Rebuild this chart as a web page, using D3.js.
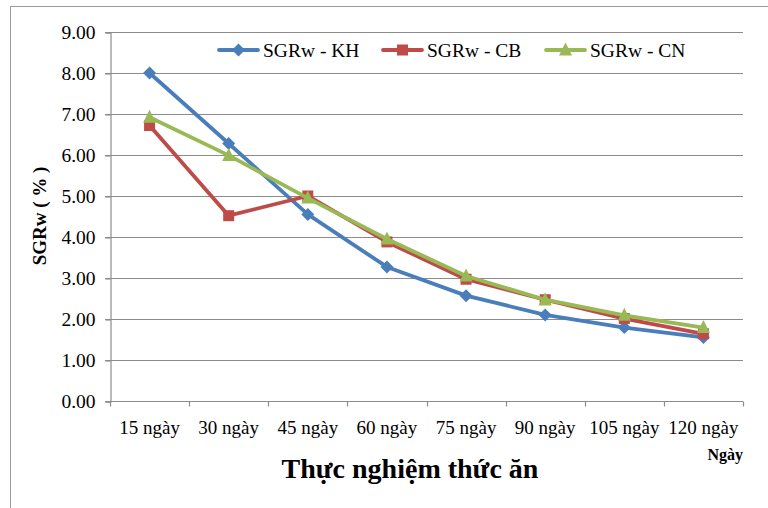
<!DOCTYPE html>
<html>
<head>
<meta charset="utf-8">
<script src="https://cdn.jsdelivr.net/npm/d3@7"></script>
<style>
  html, body { margin: 0; padding: 0; background: #fff; }
  svg { display: block; }
  svg text { font-family: "Liberation Serif", "Times New Roman", serif !important; }
</style>
</head>
<body>
<svg id="chart" width="768" height="508"></svg>
<script>
// Growth rate (SGRw, %) by sampling day for three feeding treatments
const categories = ["15 ngày", "30 ngày", "45 ngày", "60 ngày", "75 ngày", "90 ngày", "105 ngày", "120 ngày"];
const sgrKH = [8.00, 6.28, 4.55, 3.27, 2.57, 2.10, 1.79, 1.55];
const sgrCB = [6.72, 4.52, 5.00, 3.88, 2.97, 2.47, 2.01, 1.64];
const sgrCN = [6.92, 5.99, 4.95, 3.95, 3.05, 2.47, 2.09, 1.79];
const yTicks = [0, 1, 2, 3, 4, 5, 6, 7, 8, 9];
const seriesNames = ["SGRw - KH", "SGRw - CB", "SGRw - CN"];

const series = [
  { name: seriesNames[0], values: sgrKH, color: "#4A7EBB", marker: "diamond" },
  { name: seriesNames[1], values: sgrCB, color: "#BE4B48", marker: "square" },
  { name: seriesNames[2], values: sgrCN, color: "#98B954", marker: "triangle" }
];

const svg = d3.select("#chart");
const plot = { left: 110, right: 743, top: 32, bottom: 401 };

// Outer chart frame
svg.append("rect")
  .attr("x", 10.5).attr("y", 6.5)
  .attr("width", 800).attr("height", 600)
  .attr("fill", "none").attr("stroke", "#9a9a9a").attr("stroke-width", 1);

const x = d3.scaleBand().domain(categories).range([plot.left, plot.right]);
const y = d3.scaleLinear().domain([0, 9]).range([plot.bottom, plot.top]);

// Horizontal gridlines
svg.append("g")
  .selectAll("line")
  .data(yTicks.filter(d => d > 0))
  .join("line")
  .attr("x1", plot.left - 5).attr("x2", plot.right)
  .attr("y1", d => Math.round(y(d)) + 0.5).attr("y2", d => Math.round(y(d)) + 0.5)
  .attr("stroke", "#8c8c8c").attr("stroke-width", 1.2);

// Y axis
const yAxis = svg.append("g")
  .attr("transform", `translate(${plot.left + 0.5},0.5)`)
  .call(d3.axisLeft(y).tickValues(yTicks).tickFormat(d3.format(".2f")).tickSize(5).tickPadding(10));
yAxis.attr("font-family", null).attr("font-size", null);
yAxis.select(".domain").attr("stroke", "#8c8c8c").attr("stroke-width", 1.2);
yAxis.selectAll(".tick line").attr("stroke", "#8c8c8c").attr("stroke-width", 1.2);
yAxis.selectAll(".tick text")
  .attr("font-size", 19.5).attr("fill", "#000");

// X axis with tick marks on category boundaries
const xAxisG = svg.append("g").attr("transform", `translate(0,${plot.bottom + 0.5})`);
xAxisG.append("line")
  .attr("x1", plot.left - 5).attr("x2", plot.right)
  .attr("stroke", "#8c8c8c").attr("stroke-width", 1.2);
const boundaries = categories.map(c => x(c)).concat([plot.right]);
xAxisG.selectAll("line.tk")
  .data(boundaries)
  .join("line").attr("class", "tk")
  .attr("x1", d => Math.round(d) + 0.5).attr("x2", d => Math.round(d) + 0.5)
  .attr("y1", 0).attr("y2", 5)
  .attr("stroke", "#8c8c8c").attr("stroke-width", 1.2);
xAxisG.selectAll("text")
  .data(categories)
  .join("text")
  .attr("x", d => x(d) + x.bandwidth() / 2)
  .attr("y", 32)
  .attr("text-anchor", "middle")
  .attr("font-size", 19).attr("fill", "#000")
  .text(d => d);

// Axis titles
svg.append("text")
  .attr("transform", "translate(46,216) rotate(-90)")
  .attr("text-anchor", "middle")
  .attr("font-size", 19).attr("font-weight", "bold")
  .text("SGRw ( % )");

svg.append("text")
  .attr("x", 410).attr("y", 478)
  .attr("text-anchor", "middle")
  .attr("font-size", 28).attr("font-weight", "bold")
  .text("Thực nghiệm thức ăn");

svg.append("text")
  .attr("x", 743).attr("y", 460)
  .attr("text-anchor", "end")
  .attr("font-size", 16).attr("font-weight", "bold")
  .text("Ngày");

// Marker shapes
function markerPath(kind, cx, cy) {
  if (kind === "diamond") {
    const r = 6.5;
    return `M${cx},${cy - r}L${cx + r},${cy}L${cx},${cy + r}L${cx - r},${cy}Z`;
  }
  if (kind === "square") {
    const h = 5.5;
    return `M${cx - h},${cy - h}H${cx + h}V${cy + h}H${cx - h}Z`;
  }
  const s = 6.5;
  return `M${cx},${cy - s - 1}L${cx + s},${cy + s - 1}L${cx - s},${cy + s - 1}Z`;
}

const line = d3.line()
  .x((d, i) => x(categories[i]) + x.bandwidth() / 2)
  .y(d => y(d));

const lines = svg.append("g");
series.forEach(s => {
  const g = lines.append("g");
  g.append("path")
    .attr("d", line(s.values))
    .attr("fill", "none")
    .attr("stroke", s.color)
    .attr("stroke-width", 3.8)
    .attr("stroke-linejoin", "round");
  g.selectAll("path.m")
    .data(s.values)
    .join("path").attr("class", "m")
    .attr("d", (d, i) => markerPath(s.marker, x(categories[i]) + x.bandwidth() / 2, y(d)))
    .attr("fill", s.color);
});

// Legend
const legendX = [219, 383, 546];
const legend = svg.append("g");
series.forEach((s, i) => {
  const g = legend.append("g").attr("transform", `translate(${legendX[i]},50)`);
  g.append("line")
    .attr("x1", 0).attr("x2", 39)
    .attr("stroke", s.color).attr("stroke-width", 3.8).attr("stroke-linecap", "round");
  g.append("path").attr("d", markerPath(s.marker, 19.5, 0)).attr("fill", s.color);
  g.append("text")
    .attr("x", 44).attr("y", 6.5)
    .attr("font-size", 19.5).attr("fill", "#000")
    .text(s.name);
});
</script>
</body>
</html>
